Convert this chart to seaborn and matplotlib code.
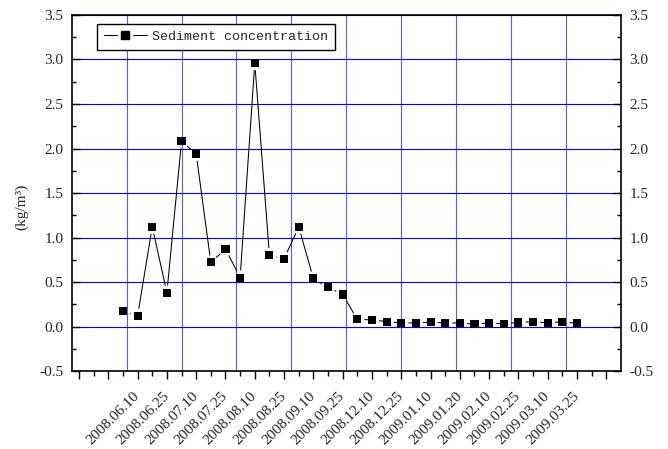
import numpy as np
import pandas as pd
import matplotlib
matplotlib.use("Agg")
import matplotlib.pyplot as plt
import matplotlib.transforms as mtransforms
from matplotlib.lines import Line2D
from matplotlib.legend_handler import HandlerTuple
from matplotlib.ticker import FixedLocator, MultipleLocator, FormatStrFormatter
import seaborn as sns

# Sediment concentration (kg/m3), one value per sampling run
concentration = [0.17, 0.12, 1.12, 0.38, 2.08, 1.94, 0.72, 0.87, 0.55, 2.96,
                 0.80, 0.76, 1.12, 0.54, 0.44, 0.36, 0.08, 0.075, 0.055, 0.04,
                 0.04, 0.05, 0.04, 0.04, 0.025, 0.04, 0.03, 0.045, 0.055, 0.04,
                 0.055, 0.035]
sample_no = list(range(len(concentration)))

# Sampling dates shown on the axis (every second run)
date_labels = ["2008.06.10", "2008.06.25", "2008.07.10", "2008.07.25",
               "2008.08.10", "2008.08.25", "2008.09.10", "2008.09.25",
               "2008.12.10", "2008.12.25", "2009.01.10", "2009.01.20",
               "2009.02.10", "2009.02.25", "2009.03.10", "2009.03.25"]
labelled_runs = sample_no[1::2]

series_name = "Sediment concentration"
y_label = "(kg/m³)"

df = pd.DataFrame({"run": sample_no, "conc": concentration})

sns.set_theme(style="ticks")
plt.rcParams["font.family"] = ["Liberation Serif", "DejaVu Serif"]
plt.rcParams["axes.unicode_minus"] = False

fig = plt.figure(figsize=(6.68, 4.49), dpi=100)
ax = fig.add_axes([0.1073, 0.1737, 0.8223, 0.7929])

x_lo, x_hi = -3.5, 34.0
ax.set_xlim(x_lo, x_hi)
ax.set_ylim(-0.5, 3.5)

# grid: horizontal at major y ticks, vertical dividing the x range in ten
ax.yaxis.grid(True, which="major", color="#0000ff", lw=0.8, zorder=0.5)
ax.xaxis.grid(False)
for xv in np.linspace(x_lo, x_hi, 11)[1:-1]:
    ax.axvline(xv, color="#5a5aff", lw=0.8, zorder=0.5)

# line segments with a gap around each symbol
for i in range(len(df) - 1):
    ax.annotate("", xy=(df.run[i + 1], df.conc[i + 1]),
                xytext=(df.run[i], df.conc[i]),
                arrowprops=dict(arrowstyle="-", color="black", lw=0.75,
                                shrinkA=5.4, shrinkB=5.4),
                zorder=3)

sns.scatterplot(data=df, x="run", y="conc", marker="s", s=34, color="black",
                edgecolor="none", linewidth=0, ax=ax, zorder=4, legend=False)

# x ticks: major at the labelled runs, minor in between
major = np.arange(-3, 34, 2)
ax.xaxis.set_major_locator(FixedLocator(major))
ax.xaxis.set_minor_locator(FixedLocator(np.arange(-2, 33, 2)))
lab_map = dict(zip(labelled_runs, date_labels))
ax.set_xticklabels([lab_map.get(int(m), "") for m in major], rotation=45,
                   ha="right", va="center", rotation_mode="anchor")
shift = mtransforms.ScaledTranslation(2 / 100, 0, fig.dpi_scale_trans)
for lab in ax.get_xticklabels():
    lab.set_transform(lab.get_transform() + shift)

ax.yaxis.set_major_locator(MultipleLocator(0.5))
ax.yaxis.set_minor_locator(MultipleLocator(0.25))
ax.yaxis.set_major_formatter(FormatStrFormatter("%.1f"))

ax.tick_params(axis="x", which="major", direction="out", length=5.8, width=1,
               pad=11, labelsize=11, top=False, bottom=True, color="black")
ax.tick_params(axis="x", which="minor", direction="out", length=3.8, width=1,
               top=False, bottom=True, color="black")
ax.tick_params(axis="y", which="major", direction="in", length=5.8, width=1,
               pad=6, left=True, right=True, labelleft=True, labelright=True,
               labelsize=11, color="black")
ax.tick_params(axis="y", which="minor", direction="in", length=3, width=1,
               left=True, right=True, color="black")

for sp in ax.spines.values():
    sp.set_visible(True)
    sp.set_color("black")
    sp.set_linewidth(1.2)

ax.set_xlabel("")
ax.set_ylabel(y_label, fontsize=11, va="center")
ax.yaxis.set_label_coords(-0.092, 0.46)

# legend: line with a gap around the symbol, all parts overlaid
h_line = Line2D([], [], color="black", lw=0.75)
h_gap = Line2D([], [], ls="none", marker="s", ms=10, mfc="white", mec="white")
h_mark = Line2D([], [], ls="none", marker="s", ms=5.8, mfc="black", mec="black")
leg = ax.legend([(h_line, h_gap, h_mark)], [series_name],
                handler_map={tuple: HandlerTuple(ndivide=1, pad=0)},
                loc="upper left", bbox_to_anchor=(0.046, 0.975),
                borderaxespad=0, borderpad=0.5, handlelength=3.25,
                handletextpad=0.4, fancybox=False, framealpha=1,
                edgecolor="black",
                prop={"family": "Liberation Mono", "size": 9.6})
leg.get_frame().set_linewidth(1.0)

fig.savefig("out.png", dpi=100)
